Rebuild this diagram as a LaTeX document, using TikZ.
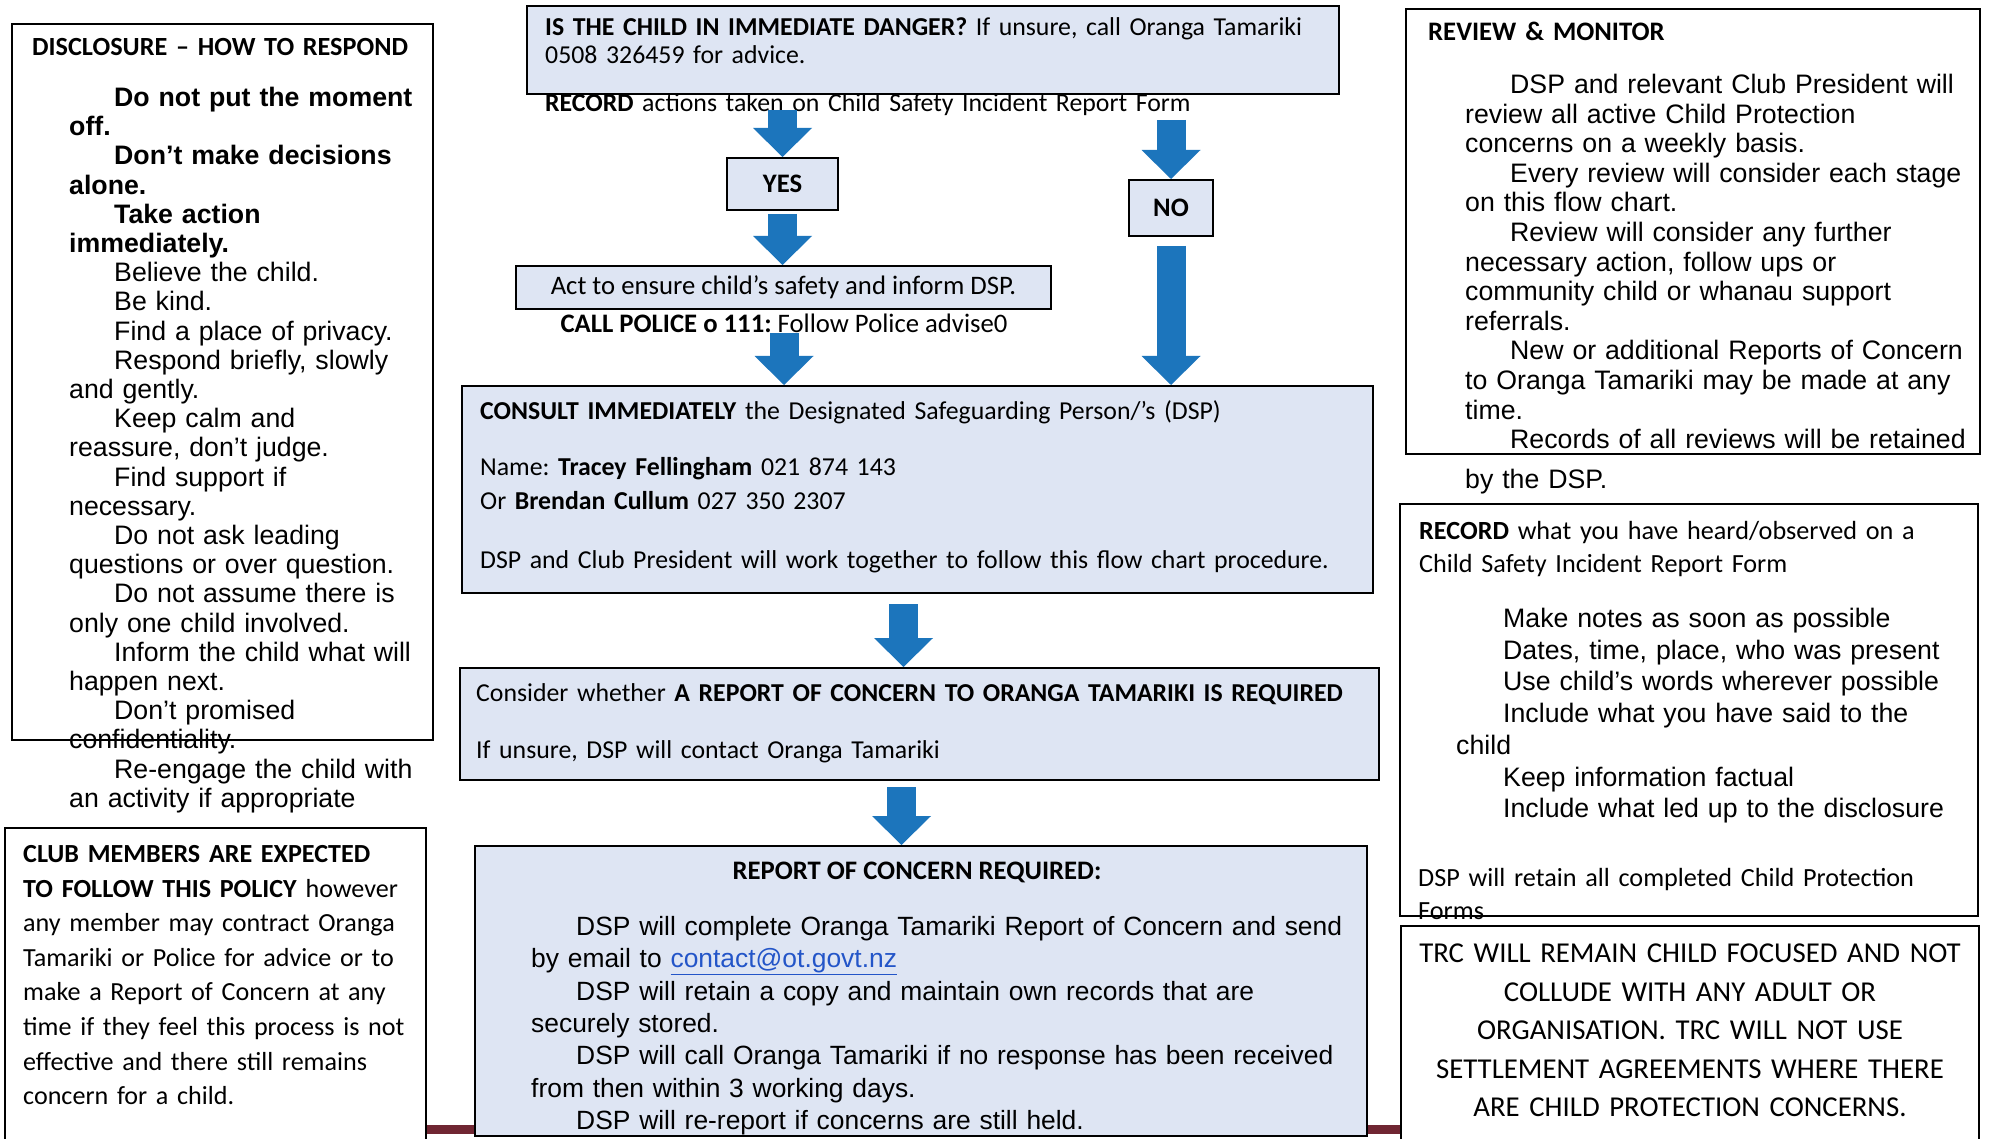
\documentclass[tikz,border=0pt]{standalone}
\usepackage{fontspec}
\setmainfont{Carlito}
\newfontfamily\arialfam{Liberation Sans}
\usetikzlibrary{arrows.meta}

\definecolor{boxblue}{RGB}{222,229,243}
\definecolor{arrowblue}{RGB}{28,117,188}
\definecolor{footred}{RGB}{112,38,50}
\definecolor{linkblue}{RGB}{35,85,200}

\newcommand{\ind}{\hspace*{45pt}}
\frenchspacing

\begin{document}
\begin{tikzpicture}[x=1pt,y=-1pt,
  frame/.style={draw=black,line width=2pt,fill=white},
  flowbox/.style={draw=black,line width=2pt,fill=boxblue,inner sep=0pt,anchor=north west},
  calib/.style={font={\fontsize{26.7}{#1}\selectfont}},
  calib/.default=34,
  narrowcalib/.style={font={\fontsize{25.8}{#1}\selectfont}},
  narrowcalib/.default=34,
  arial/.style={font={\arialfam\fontsize{26.7}{#1}\selectfont}},
  arial/.default=29.2,
  textblock/.style={anchor=base west,inner sep=0pt,text width=#1,align=left},
  bigarrow/.style={arrowblue,line width=29pt,-{Triangle[width=59pt,length=29pt,line width=0pt]}}]

% Page
\useasboundingbox (0,0) rectangle (1992,1139);
\clip (0,0) rectangle (1992,1139);
\fill[white] (0,0) rectangle (1992,1139);

% Footer band
\fill[footred] (424,1125) rectangle (1402,1134);

% Disclosure
\draw[frame] (12,24) rectangle (433,740);
\node[textblock=400pt,font={\fontsize{26.2}{34}\selectfont}] (disctitle) at (32,55.5) {\textbf{DISCLOSURE – HOW TO RESPOND}};
\node[textblock=400pt,arial] (disctext) at (69,106.5) {\ind\textbf{Do not put the moment}\\
\textbf{off.}\\
\ind\textbf{Don’t make decisions}\\
\textbf{alone.}\\
\ind\textbf{Take action}\\
\textbf{immediately.}\\
\ind Believe the child.\\
\ind Be kind.\\
\ind Find a place of privacy.\\
\ind Respond briefly, slowly\\
and gently.\\
\ind Keep calm and\\
reassure, don’t judge.\\
\ind Find support if\\
necessary.\\
\ind Do not ask leading\\
questions or over question.\\
\ind Do not assume there is\\
only one child involved.\\
\ind Inform the child what will\\
happen next.\\
\ind Don’t promised\\
confidentiality.\\
\ind Re-engage the child with\\
an activity if appropriate};

% Club members
\draw[frame] (5,828) rectangle (426,1160);
\node[textblock=420pt,font={\fontsize{26.1}{34.6}\selectfont}] (clubtext) at (23,862.5) {\textbf{CLUB MEMBERS ARE EXPECTED}\\
\textbf{TO FOLLOW THIS POLICY} however\\
any member may contract Oranga\\
Tamariki or Police for advice or to\\
make a Report of Concern at any\\
time if they feel this process is not\\
effective and there still remains\\
concern for a child.};

% Flow chart
\node[flowbox,minimum width=812pt,minimum height=88pt] (danger) at (526,5) {};
\node[textblock=790pt,narrowcalib=28] (dangertext) at (545,35.5) {\textbf{IS THE CHILD IN IMMEDIATE DANGER?} If unsure, call Oranga Tamariki\\
0508 326459 for advice.};
\node[textblock=700pt,narrowcalib] (recordnote) at (545,111.5) {\textbf{RECORD} actions taken on Child Safety Incident Report Form};

\node[flowbox,anchor=center,minimum width=111pt,minimum height=52pt,calib] (yes) at (782.5,184) {\textbf{YES}};
\node[flowbox,anchor=center,minimum width=84pt,minimum height=56pt,calib] (no) at (1171,208) {\textbf{NO}};
\node[flowbox,anchor=center,minimum width=535pt,minimum height=43pt,calib] (act) at (783.5,287.5) {Act to ensure child’s safety and inform DSP.};
\node[anchor=base,inner sep=0pt,calib] (police) at (784,332.5) {\textbf{CALL POLICE o 111:} Follow Police advise0};

\node[flowbox,minimum width=911pt,minimum height=207pt] (consult) at (461,385) {};
\node[textblock=880pt,narrowcalib] (consulttext) at (480,419.5) {\textbf{CONSULT IMMEDIATELY} the Designated Safeguarding Person/’s (DSP)\\[22pt]
Name: \textbf{Tracey Fellingham} 021 874 143\\
Or \textbf{Brendan Cullum} 027 350 2307\\[25pt]
DSP and Club President will work together to follow this flow chart procedure.};

\node[flowbox,minimum width=919pt,minimum height=112pt] (consider) at (459,667) {};
\node[textblock=900pt,narrowcalib] (considertext) at (476,701.5) {Consider whether \textbf{A REPORT OF CONCERN TO ORANGA TAMARIKI IS REQUIRED}\\[23pt]
If unsure, DSP will contact Oranga Tamariki};

\node[flowbox,minimum width=892pt,minimum height=290pt] (report) at (474,845) {};
\node[anchor=base,inner sep=0pt,calib] (reporttitle) at (917,879.5) {\textbf{REPORT OF CONCERN REQUIRED:}};
\node[textblock=830pt,font={\arialfam\fontsize{26.4}{32.3}\selectfont}] (reporttext) at (531,935.5) {\ind DSP will complete Oranga Tamariki Report of Concern and send\\
by email to \textcolor{linkblue}{\underline{contact@ot.govt.nz}}\\
\ind DSP will retain a copy and maintain own records that are\\
securely stored.\\
\ind DSP will call Oranga Tamariki if no response has been received\\
from then within 3 working days.\\
\ind DSP will re-report if concerns are still held.};

% Arrows
\coordinate (yestail) at (782.5,110);
\coordinate (notail) at (1171,120);
\draw[bigarrow] (yestail) -- (yes);
\draw[bigarrow] ([yshift=-3pt]yes.south) -- (yes.south |- act.north);
\draw[bigarrow] (police.south) -- (police.south |- consult.north);
\draw[bigarrow] (notail) -- (no);
\draw[bigarrow] ([yshift=-9pt]no.south) -- (no.south |- consult.north);
\draw[bigarrow] ([xshift=-14pt,yshift=-10pt]consult.south) -- ([xshift=-14pt]consult.south |- consider.north);
\draw[bigarrow] ([xshift=-18pt,yshift=-6pt]consider.south) -- ([xshift=-18pt]consider.south |- report.north);

% Review and monitor
\draw[frame] (1406,9) rectangle (1980,454);
\node[textblock=540pt,calib] (reviewtitle) at (1428,40.5) {\textbf{REVIEW \& MONITOR}};
\node[textblock=520pt,arial=29.6] (reviewtext) at (1465,93.5) {\ind DSP and relevant Club President will\\
review all active Child Protection\\
concerns on a weekly basis.\\
\ind Every review will consider each stage\\
on this flow chart.\\
\ind Review will consider any further\\
necessary action, follow ups or\\
community child or whanau support\\
referrals.\\
\ind New or additional Reports of Concern\\
to Oranga Tamariki may be made at any\\
time.\\
\ind Records of all reviews will be retained\\[10pt]
by the DSP.};

% Record
\draw[frame] (1400,504) rectangle (1978,916);
\node[textblock=560pt,font={\fontsize{26.2}{33}\selectfont}] (recordhead) at (1419,539.5) {\textbf{RECORD} what you have heard/observed on a\\
Child Safety Incident Report Form};
\node[textblock=520pt,arial=31.7] (recordlist) at (1456,627.5) {\hspace*{47pt}Make notes as soon as possible\\
\hspace*{47pt}Dates, time, place, who was present\\
\hspace*{47pt}Use child’s words wherever possible\\
\hspace*{47pt}Include what you have said to the\\
child\\
\hspace*{47pt}Keep information factual\\
\hspace*{47pt}Include what led up to the disclosure};
\node[textblock=560pt,font={\fontsize{26.2}{33}\selectfont}] (recordkeep) at (1418,886.5) {DSP will retain all completed Child Protection\\
Forms};

% Statement
\draw[frame] (1401,926) rectangle (1979,1160);
\node[anchor=base,inner sep=0pt,text width=578pt,align=center,font={\fontsize{28.8}{38.5}\selectfont}] (trc) at (1690,962.5) {TRC WILL REMAIN CHILD FOCUSED AND NOT\\
COLLUDE WITH ANY ADULT OR\\
ORGANISATION. TRC WILL NOT USE\\
SETTLEMENT AGREEMENTS WHERE THERE\\
ARE CHILD PROTECTION CONCERNS.};

\end{tikzpicture}
\end{document}
